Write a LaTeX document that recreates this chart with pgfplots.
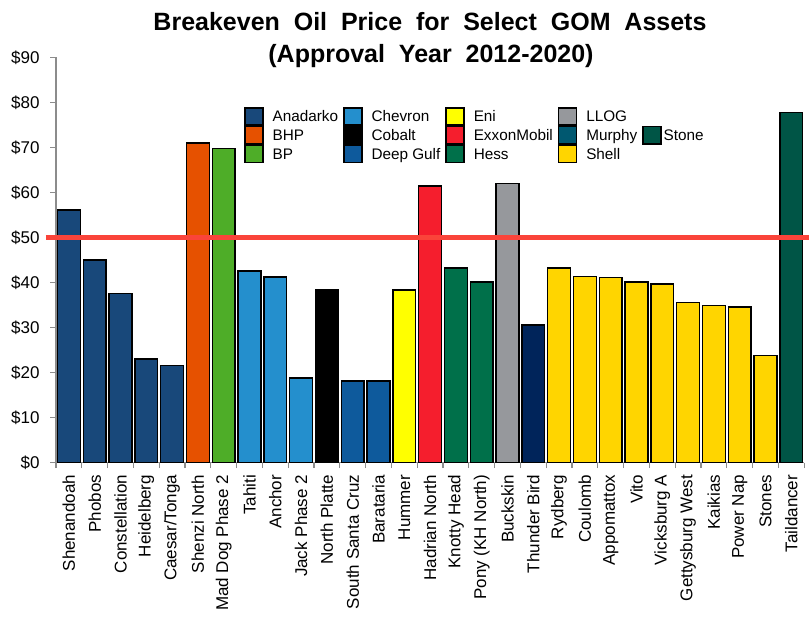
\documentclass[border=0pt]{standalone}
\usepackage{fontspec}
\setmainfont{Liberation Sans}
\usepackage{pgfplots}
\pgfplotsset{compat=1.18}
\definecolor{anadarko}{RGB}{24,72,122}
\definecolor{bhp}{RGB}{230,81,0}
\definecolor{bp}{RGB}{78,173,40}
\definecolor{chevron}{RGB}{36,143,205}
\definecolor{cobalt}{RGB}{0,0,0}
\definecolor{deepgulf}{RGB}{14,90,156}
\definecolor{eni}{RGB}{255,255,0}
\definecolor{exxon}{RGB}{245,30,45}
\definecolor{hess}{RGB}{0,112,74}
\definecolor{llog}{RGB}{150,152,156}
\definecolor{murphy}{RGB}{0,88,112}
\definecolor{thunder}{RGB}{0,36,90}
\definecolor{shell}{RGB}{255,213,0}
\definecolor{stone}{RGB}{0,85,70}
\definecolor{refline}{RGB}{250,68,58}
\definecolor{axgray}{RGB}{140,140,140}
\pgfplotsset{
  comp/.style={fill=#1, draw=black, line width=1.4pt, bar shift=0pt,
    legend image code/.code={\draw[fill=#1,draw=black,line width=1.4pt] (0pt,-3.5pt) rectangle (18pt,13.8pt); \path (27pt,0pt);}}
}
\begin{document}
\begin{tikzpicture}
\path[use as bounding box] (0,0) rectangle (809pt,618pt);
\node[anchor=base, font=\fontsize{25}{30}\selectfont\bfseries] at (430pt,587pt) {Breakeven~~Oil~~Price~~for~~Select~~GOM~~Assets};
\node[anchor=base, font=\fontsize{25}{30}\selectfont\bfseries] at (431pt,555pt) {(Approval~~Year~~2012-2020)};
\begin{axis}[
  at={(56pt,155.3pt)}, anchor=south west,
  scale only axis, width=748.2pt, height=405.4pt,
  ybar, bar width=0.88,
  xmin=-0.5, xmax=28.5, ymin=0, ymax=90,
  clip=false,
  axis lines*=left,
  axis line style={draw=axgray, line width=1.3pt},
  ytick={0,10,...,90},
  yticklabel={\$\pgfmathprintnumber{\tick}},
  /pgf/number format/assume math mode=true,
  xtick={0,...,28},
  xticklabels={Shenandoah,Phobos,Constellation,Heidelberg,Caesar/Tonga,Shenzi North,Mad Dog Phase 2,Tahiti,Anchor,Jack Phase 2,North Platte,South Santa Cruz,Barataria,Hummer,Hadrian North,Knotty Head,Pony (KH North),Buckskin,Thunder Bird,Rydberg,Coulomb,Appomattox,Vito,Vicksburg A,Gettysburg West,Kaikias,Power Nap,Stones,Taildancer},
  minor xtick={-0.5,0.5,...,28.5},
  tick align=outside,
  major tick length=6pt, minor tick length=5.5pt,
  major x tick style={draw=none},
  major y tick style={draw=axgray, line width=1.2pt},
  minor x tick style={draw=axgray, line width=1.2pt},
  tick label style={font=\fontsize{17}{20}\selectfont},
  yticklabel style={xshift=-7pt},
  xticklabel style={rotate=90, anchor=east, inner xsep=6pt, inner ysep=2pt},
  legend columns=5,
  legend cell align=left,
  legend style={draw=none, fill=none, inner sep=0pt, row sep=0pt, column sep=0pt,
    font=\fontsize{15.3}{18}\selectfont,
    nodes={inner sep=0pt, anchor=base west},
    /tikz/every even column/.append style={column sep=5pt},
    at={(axis cs:6.787,78.97)}, anchor=north west},
]
% row 1
\addplot[comp=anadarko] coordinates {(0,56.1) (1,45.0) (2,37.6) (3,23.0) (4,21.6)};
\addlegendentry{Anadarko}
\addplot[comp=chevron] coordinates {(7,42.6) (8,41.2) (9,18.8)};
\addlegendentry{Chevron}
\addplot[comp=eni] coordinates {(13,38.3)};
\addlegendentry{Eni}
\addplot[comp=llog] coordinates {(17,62.0)};
\addlegendentry{LLOG}
\addlegendimage{empty legend}
\addlegendentry{}
% row 2
\addplot[comp=bhp] coordinates {(5,71.0)};
\addlegendentry{BHP}
\addplot[comp=cobalt] coordinates {(10,38.3)};
\addlegendentry{Cobalt}
\addplot[comp=exxon] coordinates {(14,61.4)};
\addlegendentry{ExxonMobil}
\addplot[comp=murphy, fill=thunder] coordinates {(18,30.6)};
\addlegendentry{Murphy}
\addplot[comp=stone, legend image code/.code={\draw[fill=stone,draw=black,line width=1.4pt] (0pt,-3.5pt) rectangle (18pt,13.8pt); \path (20pt,0pt);}] coordinates {(28,77.8)};
\addlegendentry{Stone}
% row 3
\addplot[comp=bp] coordinates {(6,69.7)};
\addlegendentry{BP}
\addplot[comp=deepgulf] coordinates {(11,18.1) (12,18.1)};
\addlegendentry{Deep Gulf}
\addplot[comp=hess] coordinates {(15,43.2) (16,40.1)};
\addlegendentry{Hess}
\addplot[comp=shell] coordinates {(19,43.2) (20,41.4) (21,41.1) (22,40.1) (23,39.7) (24,35.5) (25,34.9) (26,34.6) (27,23.8)};
\addlegendentry{Shell}
\addlegendimage{empty legend}
\addlegendentry{}
% reference line
\addplot[sharp plot, draw=refline, line width=5pt, forget plot] coordinates {(-0.89,50) (28.69,50)};
\end{axis}
\end{tikzpicture}
\end{document}
